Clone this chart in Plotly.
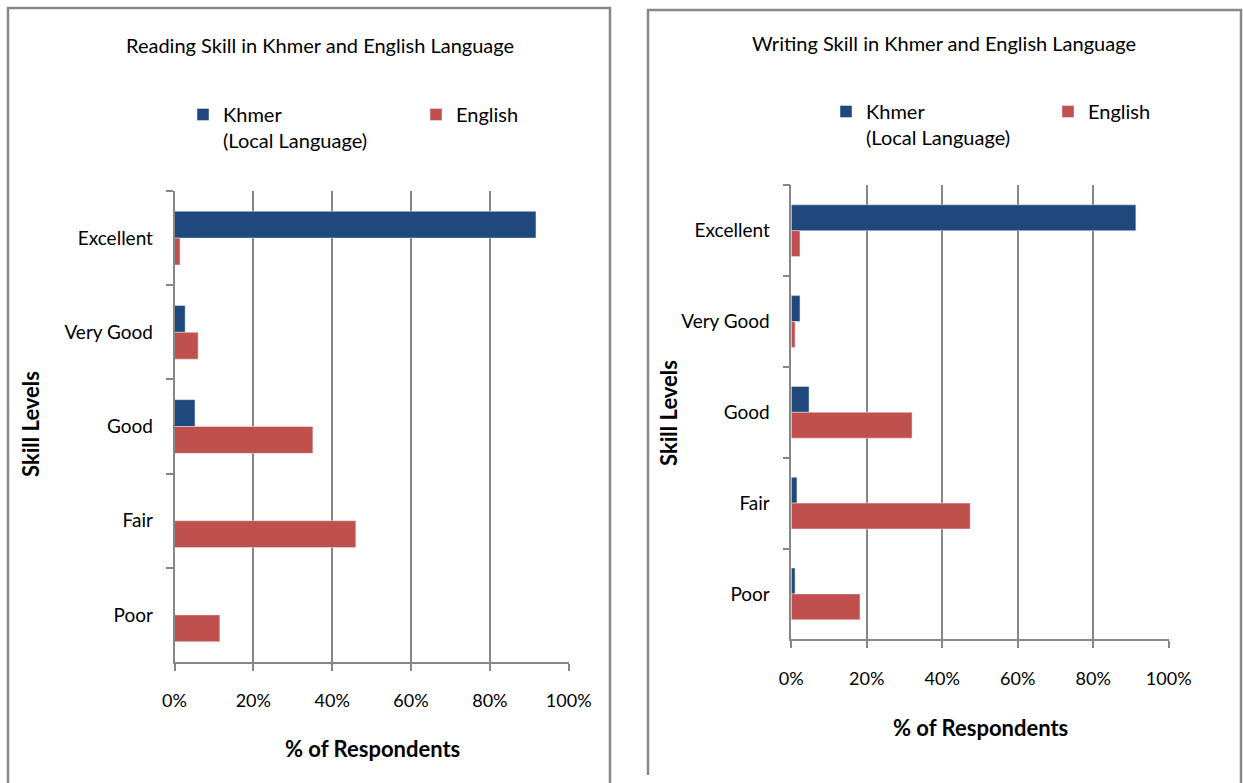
import plotly.graph_objects as go

W, H = 1243, 783

skill_levels = ["Excellent", "Very Good", "Good", "Fair", "Poor"]

reading_khmer = [0.917, 0.027, 0.052, 0.0, 0.0]
reading_english = [0.014, 0.060, 0.351, 0.460, 0.115]

writing_khmer = [0.913, 0.023, 0.047, 0.015, 0.010]
writing_english = [0.023, 0.010, 0.320, 0.474, 0.182]

x_ticks = [0, 0.2, 0.4, 0.6, 0.8, 1.0]
x_tick_labels = ["0%", "20%", "40%", "60%", "80%", "100%"]

KHMER_NAME = "Khmer<br>(Local Language)"
ENGLISH_NAME = "English"
BLUE = "#1F497D"
RED = "#C0504D"
GRID = "#868686"
FONT = "Lato"


def px(x):
    return x / W


def py(y):
    return 1 - y / H


fig = go.Figure()

fig.add_trace(go.Bar(y=skill_levels, x=reading_khmer, orientation="h", name=KHMER_NAME,
                     marker_color=BLUE, xaxis="x", yaxis="y", legend="legend", showlegend=True))
fig.add_trace(go.Bar(y=skill_levels, x=reading_english, orientation="h", name=ENGLISH_NAME,
                     marker_color=RED, xaxis="x", yaxis="y", legend="legend2", showlegend=True))
fig.add_trace(go.Bar(y=skill_levels, x=writing_khmer, orientation="h", name=KHMER_NAME,
                     marker_color=BLUE, xaxis="x2", yaxis="y2", legend="legend3", showlegend=True))
fig.add_trace(go.Bar(y=skill_levels, x=writing_english, orientation="h", name=ENGLISH_NAME,
                     marker_color=RED, xaxis="x2", yaxis="y2", legend="legend4", showlegend=True))

xaxis_common = dict(range=[0, 1], tickvals=x_ticks, ticktext=x_tick_labels,
                    showgrid=True, gridcolor=GRID, gridwidth=1.5,
                    showline=True, linecolor=GRID, linewidth=1.5,
                    ticks="outside", ticklen=7, tickcolor=GRID, tickwidth=1.5,
                    ticklabelstandoff=15, zeroline=False,
                    tickfont=dict(family=FONT, size=18, color="black"), fixedrange=True)
yaxis_common = dict(type="category", categoryorder="array", categoryarray=skill_levels,
                    autorange="reversed", showline=True, linecolor=GRID, linewidth=1.5,
                    ticks="outside", ticklen=7, tickcolor=GRID, tickwidth=1.5,
                    tickson="boundaries", showgrid=False, ticklabelstandoff=16,
                    tickfont=dict(family=FONT, size=19, color="black"), fixedrange=True)


def legend_at(x, y):
    return dict(orientation="h", x=px(x), y=py(y), xanchor="left", yanchor="top",
                valign="top", font=dict(family=FONT, size=20, color="black"),
                bgcolor="rgba(0,0,0,0)")


fig.update_layout(
    width=W, height=H,
    margin=dict(l=0, r=0, t=0, b=0, autoexpand=False),
    paper_bgcolor="white", plot_bgcolor="white",
    showlegend=True,
    barmode="group", bargap=0.43, bargroupgap=0,
    xaxis=dict(domain=[px(174.5), px(568.7)], anchor="y", **xaxis_common),
    yaxis=dict(domain=[py(662), py(191)], anchor="x", **yaxis_common),
    xaxis2=dict(domain=[px(791.3), px(1168.7)], anchor="y2", **xaxis_common),
    yaxis2=dict(domain=[py(639.3), py(185.3)], anchor="x2", **yaxis_common),
    legend=legend_at(183, 95),
    legend2=legend_at(416, 95),
    legend3=legend_at(826, 92),
    legend4=legend_at(1048, 92),
    font=dict(family=FONT, color="black"),
)

annotations = [
    dict(text="Reading Skill in Khmer and English Language", x=px(320), y=py(45),
         font=dict(size=20, family=FONT, color="black")),
    dict(text="Writing Skill in Khmer and English Language", x=px(944), y=py(43),
         font=dict(size=20, family=FONT, color="black")),
    dict(text="<b>Skill Levels</b>", x=px(30), y=py(424), textangle=-90,
         font=dict(size=22, family=FONT, color="black")),
    dict(text="<b>Skill Levels</b>", x=px(668), y=py(413), textangle=-90,
         font=dict(size=22, family=FONT, color="black")),
    dict(text="<b>% of Respondents</b>", x=px(372), y=py(748),
         font=dict(size=22, family=FONT, color="black")),
    dict(text="<b>% of Respondents</b>", x=px(980), y=py(727),
         font=dict(size=22, family=FONT, color="black")),
]
for a in annotations:
    a.update(xref="paper", yref="paper", showarrow=False, xanchor="center", yanchor="middle")
fig.update_layout(annotations=annotations)

frame = dict(type="path", xref="paper", yref="paper", line=dict(color="#888888", width=2.5))
fig.add_shape(path=f"M {px(8)} {py(783)} L {px(8)} {py(8)} L {px(610)} {py(8)} L {px(610)} {py(783)}", **frame)
fig.add_shape(path=f"M {px(648)} {py(775)} L {px(648)} {py(10)} L {px(1241)} {py(10)} L {px(1241)} {py(783)}", **frame)

fig.write_html("out.html", config={"displayModeBar": False})
